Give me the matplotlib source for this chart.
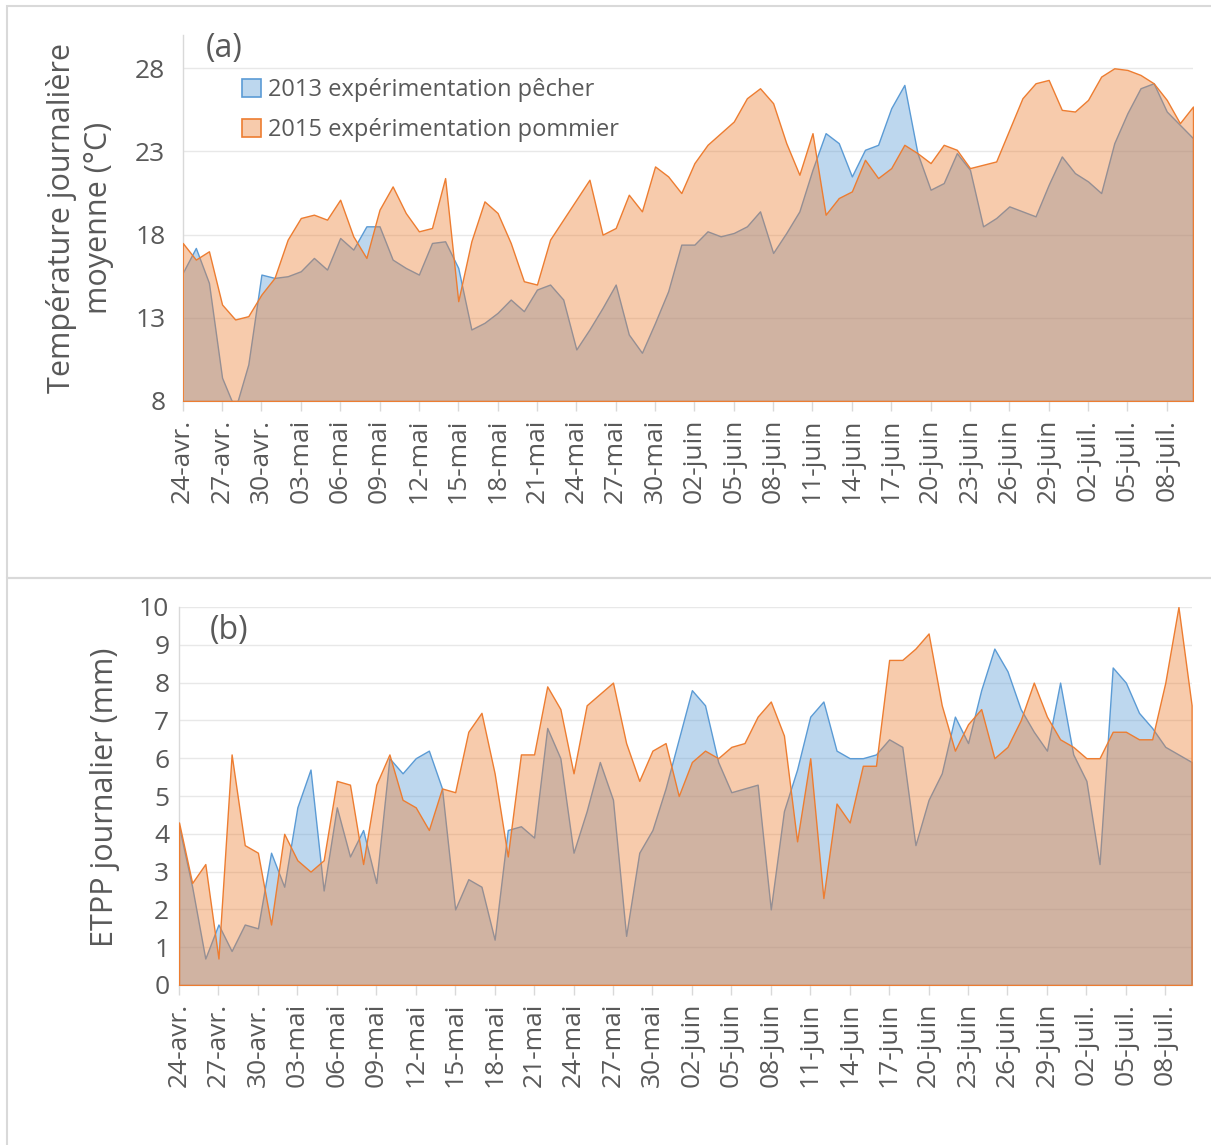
import numpy as np
import matplotlib
matplotlib.use("Agg")
from matplotlib import pyplot as plt
from matplotlib.patches import Patch, Rectangle

plt.rcParams['font.family'] = ['Open Sans', 'DejaVu Sans']

# jours du 24-avr. au 10-juil.
n_days = 78
tick_days = list(range(0, 76, 3))
tick_labels = ['24-avr.', '27-avr.', '30-avr.', '03-mai', '06-mai', '09-mai',
               '12-mai', '15-mai', '18-mai', '21-mai', '24-mai', '27-mai',
               '30-mai', '02-juin', '05-juin', '08-juin', '11-juin', '14-juin',
               '17-juin', '20-juin', '23-juin', '26-juin', '29-juin',
               '02-juil.', '05-juil.', '08-juil.']

series_names = ['2013 expérimentation pêcher', '2015 expérimentation pommier']

temp_2013 = [15.7, 17.2, 15.1, 9.4, 7.5, 10.2, 15.6, 15.4, 15.5, 15.8,
             16.6, 15.9, 17.8, 17.1, 18.5, 18.5, 16.5, 16.0, 15.6, 17.5,
             17.6, 16.0, 12.3, 12.7, 13.3, 14.1, 13.4, 14.7, 15.0, 14.1,
             11.1, 12.3, 13.6, 15.0, 12.0, 10.9, 12.7, 14.6, 17.4, 17.4,
             18.2, 17.9, 18.1, 18.5, 19.4, 16.9, 18.1, 19.4, 21.9, 24.1,
             23.5, 21.5, 23.1, 23.4, 25.6, 27.0, 22.9, 20.7, 21.1, 22.9,
             21.9, 18.5, 19.0, 19.7, 19.4, 19.1, 21.0, 22.7, 21.7, 21.2,
             20.5, 23.5, 25.3, 26.8, 27.1, 25.4, 24.6, 23.8]

temp_2015 = [17.5, 16.5, 17.0, 13.8, 12.9, 13.1, 14.4, 15.4, 17.7, 19.0,
             19.2, 18.9, 20.1, 17.9, 16.6, 19.5, 20.9, 19.3, 18.2, 18.4,
             21.4, 14.0, 17.6, 20.0, 19.3, 17.5, 15.2, 15.0, 17.7, 18.9,
             20.1, 21.3, 18.0, 18.4, 20.4, 19.4, 22.1, 21.5, 20.5, 22.3,
             23.4, 24.1, 24.8, 26.2, 26.8, 25.9, 23.5, 21.6, 24.1, 19.2,
             20.2, 20.6, 22.5, 21.4, 22.0, 23.4, 22.9, 22.3, 23.4, 23.1,
             22.0, 22.2, 22.4, 24.3, 26.2, 27.1, 27.3, 25.5, 25.4, 26.1,
             27.5, 28.0, 27.9, 27.6, 27.1, 26.1, 24.7, 25.7]

etpp_2013 = [4.2, 2.6, 0.7, 1.6, 0.9, 1.6, 1.5, 3.5, 2.6, 4.7,
             5.7, 2.5, 4.7, 3.4, 4.1, 2.7, 6.0, 5.6, 6.0, 6.2,
             5.2, 2.0, 2.8, 2.6, 1.2, 4.1, 4.2, 3.9, 6.8, 6.0,
             3.5, 4.6, 5.9, 4.9, 1.3, 3.5, 4.1, 5.2, 6.5, 7.8,
             7.4, 5.9, 5.1, 5.2, 5.3, 2.0, 4.6, 5.7, 7.1, 7.5,
             6.2, 6.0, 6.0, 6.1, 6.5, 6.3, 3.7, 4.9, 5.6, 7.1,
             6.4, 7.8, 8.9, 8.3, 7.3, 6.7, 6.2, 8.0, 6.1, 5.4,
             3.2, 8.4, 8.0, 7.2, 6.8, 6.3, 6.1, 5.9]

etpp_2015 = [4.3, 2.7, 3.2, 0.7, 6.1, 3.7, 3.5, 1.6, 4.0, 3.3,
             3.0, 3.3, 5.4, 5.3, 3.2, 5.3, 6.1, 4.9, 4.7, 4.1,
             5.2, 5.1, 6.7, 7.2, 5.6, 3.4, 6.1, 6.1, 7.9, 7.3,
             5.6, 7.4, 7.7, 8.0, 6.4, 5.4, 6.2, 6.4, 5.0, 5.9,
             6.2, 6.0, 6.3, 6.4, 7.1, 7.5, 6.6, 3.8, 6.0, 2.3,
             4.8, 4.3, 5.8, 5.8, 8.6, 8.6, 8.9, 9.3, 7.4, 6.2,
             6.9, 7.3, 6.0, 6.3, 7.0, 8.0, 7.1, 6.5, 6.3, 6.0,
             6.0, 6.7, 6.7, 6.5, 6.5, 8.0, 10.0, 7.4]

BLUE = '#5B9BD5'
ORANGE = '#ED7D31'
GREY_TXT = '#595959'
GRID = '#E8E8E8'
AXIS = '#D9D9D9'
W, H = 1211, 1145


def draw_panel(ax, y13, y15, ymin, ymax, yticks, ypad):
    x = np.arange(n_days)
    ax.fill_between(x, y13, ymin, facecolor=matplotlib.colors.to_rgba(BLUE, 0.4),
                    edgecolor=BLUE, linewidth=1.0, zorder=2)
    ax.fill_between(x, y15, ymin, facecolor=matplotlib.colors.to_rgba(ORANGE, 0.4),
                    edgecolor=ORANGE, linewidth=1.0, zorder=3)
    ax.set_xlim(0, n_days - 1)
    ax.set_ylim(ymin, ymax)
    ax.set_yticks(yticks)
    ax.set_xticks(tick_days)
    ax.set_xticklabels(tick_labels, rotation=90, ha='center', va='top')
    ax.grid(axis='y', color=GRID, linewidth=1.0, zorder=0)
    ax.set_axisbelow(True)
    for s in ['top', 'right']:
        ax.spines[s].set_visible(False)
    for s in ['left', 'bottom']:
        ax.spines[s].set_color(AXIS)
        ax.spines[s].set_linewidth(1.0)
    ax.tick_params(axis='y', length=0, pad=ypad, labelsize=19, labelcolor=GREY_TXT)
    ax.tick_params(axis='x', length=7, width=1, color=AXIS, pad=6,
                   labelsize=19, labelcolor=GREY_TXT)


fig = plt.figure(figsize=(W / 100, H / 100), dpi=100)

# cadres des deux graphiques
fig.add_artist(Rectangle((7 / W, 1 - 578 / H), 1.0, 572 / H, transform=fig.transFigure,
                         fill=False, edgecolor=AXIS, linewidth=1.5, clip_on=False))
fig.add_artist(Rectangle((7 / W, -0.1), 1.0, 1 - 578 / H + 0.1, transform=fig.transFigure,
                         fill=False, edgecolor=AXIS, linewidth=1.5, clip_on=False))

ax1 = fig.add_axes([182.7 / W, 1 - 401 / H, (1193 - 182.7) / W, 366 / H])
draw_panel(ax1, temp_2013, temp_2015, 8, 30, [8, 13, 18, 23, 28], 12.5)

ax2 = fig.add_axes([179 / W, 1 - 985 / H, (1191.6 - 179) / W, 378 / H])
draw_panel(ax2, etpp_2013, etpp_2015, 0, 10, list(range(0, 11)), 7)

fig.text(80 / W, 1 - 218 / H, 'Température journalière\nmoyenne (°C)', rotation=90,
         ha='center', va='center', fontsize=22, color=GREY_TXT, linespacing=1.3)
fig.text(105 / W, 1 - 797 / H, 'ETPP journalier (mm)', rotation=90,
         ha='center', va='center', fontsize=22, color=GREY_TXT)

fig.text(224.5 / W, 1 - 49 / H, '(a)', ha='center', va='center', fontsize=23, color=GREY_TXT)
fig.text(229 / W, 1 - 630 / H, '(b)', ha='center', va='center', fontsize=23, color=GREY_TXT)

handles = [Patch(facecolor=matplotlib.colors.to_rgba(BLUE, 0.4), edgecolor=BLUE, linewidth=1.2),
           Patch(facecolor=matplotlib.colors.to_rgba(ORANGE, 0.4), edgecolor=ORANGE, linewidth=1.2)]
leg = ax1.legend(handles, series_names, loc='upper left',
                 bbox_to_anchor=(242 / W, 1 - 78 / H), bbox_transform=fig.transFigure,
                 frameon=False, fontsize=17, handlelength=0.8, handleheight=0.8,
                 handletextpad=0.3, labelspacing=0.68, borderpad=0, borderaxespad=0)
for t in leg.get_texts():
    t.set_color(GREY_TXT)

fig.savefig('out.png', dpi=100, facecolor='white')
